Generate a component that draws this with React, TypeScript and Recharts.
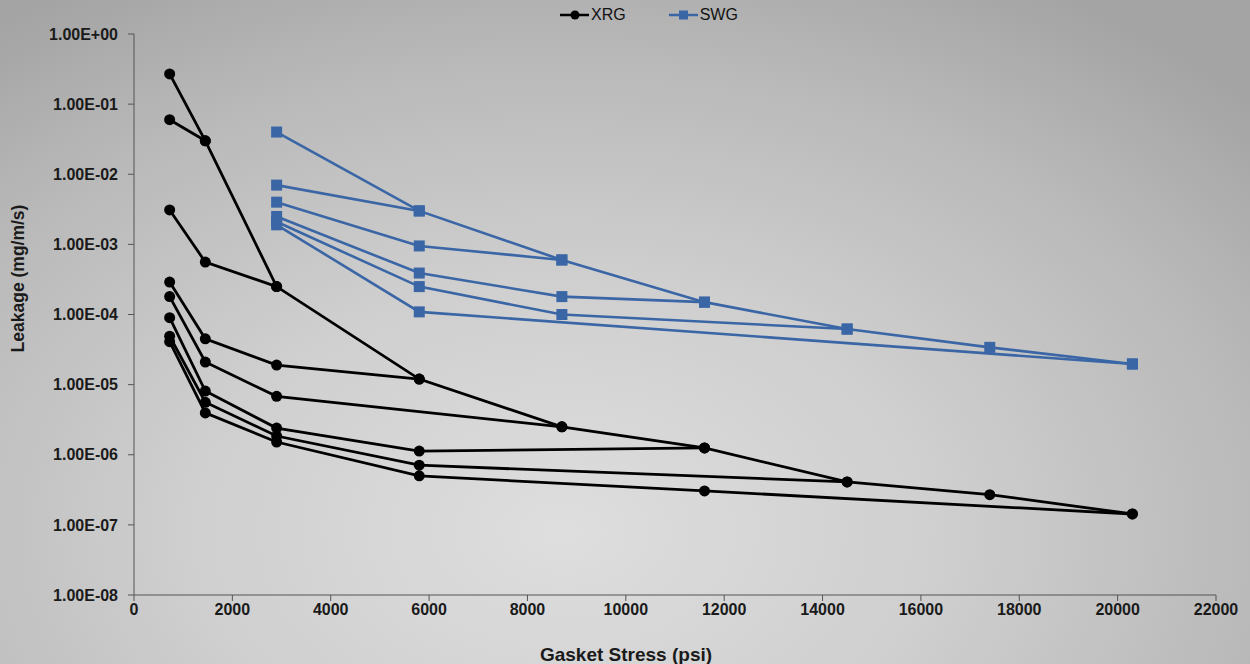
import React from "react";
import { LineChart, Line, XAxis, YAxis } from "recharts";

// gasket stress levels (psi)
const xrgLoadStress = [725, 1450, 2900, 5800, 8700, 11600, 14500, 17400, 20300];
const xrgLoadLeak = [0.27, 0.03, 2.5e-4, 1.2e-5, 2.5e-6, 1.25e-6, 4.1e-7, 2.7e-7, 1.43e-7];

const xrgUnload1Stress = [725, 1450];
const xrgUnload1Leak = [0.06, 0.03];
const xrgUnload2Stress = [725, 1450, 2900];
const xrgUnload2Leak = [3.1e-3, 5.6e-4, 2.5e-4];
const xrgUnload3Stress = [725, 1450, 2900, 5800];
const xrgUnload3Leak = [2.9e-4, 4.5e-5, 1.9e-5, 1.2e-5];
const xrgUnload4Stress = [725, 1450, 2900, 8700];
const xrgUnload4Leak = [1.8e-4, 2.1e-5, 6.8e-6, 2.5e-6];
const xrgUnload5Stress = [725, 1450, 2900, 5800, 11600];
const xrgUnload5Leak = [9e-5, 8.1e-6, 2.4e-6, 1.13e-6, 1.25e-6];
const xrgUnload6Stress = [725, 1450, 2900, 5800, 14500];
const xrgUnload6Leak = [4.9e-5, 5.6e-6, 1.85e-6, 7.1e-7, 4.1e-7];
const xrgUnload7Stress = [725, 1450, 2900, 5800, 11600, 20300];
const xrgUnload7Leak = [4.1e-5, 3.95e-6, 1.52e-6, 5e-7, 3.05e-7, 1.43e-7];

const swgLoadStress = [2900, 5800, 8700, 11600, 14500, 17400, 20300];
const swgLoadLeak = [0.04, 3e-3, 6e-4, 1.5e-4, 6.2e-5, 3.4e-5, 1.97e-5];
const swgUnload1Stress = [2900, 5800];
const swgUnload1Leak = [7e-3, 3e-3];
const swgUnload2Stress = [2900, 5800, 8700];
const swgUnload2Leak = [4e-3, 9.5e-4, 6e-4];
const swgUnload3Stress = [2900, 5800, 8700, 11600];
const swgUnload3Leak = [2.5e-3, 3.9e-4, 1.8e-4, 1.5e-4];
const swgUnload4Stress = [2900, 5800, 8700, 14500];
const swgUnload4Leak = [2.1e-3, 2.5e-4, 1e-4, 6.2e-5];
const swgUnload5Stress = [2900, 5800, 20300];
const swgUnload5Leak = [1.9e-3, 1.09e-4, 1.97e-5];

const xTicks = [0, 2000, 4000, 6000, 8000, 10000, 12000, 14000, 16000, 18000, 20000, 22000];
const yTicks = [1e-8, 1e-7, 1e-6, 1e-5, 1e-4, 1e-3, 1e-2, 1e-1, 1];

const toPoints = (xs: number[], ys: number[]) => xs.map((x, i) => ({ x, y: ys[i] }));

const xrgSeries = [
  toPoints(xrgLoadStress, xrgLoadLeak),
  toPoints(xrgUnload1Stress, xrgUnload1Leak),
  toPoints(xrgUnload2Stress, xrgUnload2Leak),
  toPoints(xrgUnload3Stress, xrgUnload3Leak),
  toPoints(xrgUnload4Stress, xrgUnload4Leak),
  toPoints(xrgUnload5Stress, xrgUnload5Leak),
  toPoints(xrgUnload6Stress, xrgUnload6Leak),
  toPoints(xrgUnload7Stress, xrgUnload7Leak),
];

const swgSeries = [
  toPoints(swgLoadStress, swgLoadLeak),
  toPoints(swgUnload1Stress, swgUnload1Leak),
  toPoints(swgUnload2Stress, swgUnload2Leak),
  toPoints(swgUnload3Stress, swgUnload3Leak),
  toPoints(swgUnload4Stress, swgUnload4Leak),
  toPoints(swgUnload5Stress, swgUnload5Leak),
];

const BLUE = "#3A66A6";
const FONT = "'Liberation Sans', Arial, sans-serif";

// Excel-like "1.00E-03"
const sciLabel = (v: number) => {
  const e = Math.round(Math.log10(v));
  return `1.00E${e < 0 ? "-" : "+"}${String(Math.abs(e)).padStart(2, "0")}`;
};

const tickStyle = { fill: "#1a1a1a", fontSize: 16, fontWeight: 700, fontFamily: FONT };

export default function App() {
  return (
    <div
      style={{
        position: "absolute",
        left: 0,
        top: 0,
        width: 1250,
        height: 664,
        background:
          "radial-gradient(ellipse 75% 95% at 45% 80%, #dedede 0%, #cfcfcf 40%, #b9b9b9 75%, #a4a4a4 100%)",
        fontFamily: FONT,
      }}
    >
      {/* legend */}
      <div
        style={{
          position: "absolute",
          top: 5,
          left: 560,
          display: "flex",
          alignItems: "center",
          fontSize: 16,
          color: "#111",
        }}
      >
        <svg width={30} height={20}>
          <line x1={0} y1={10} x2={29} y2={10} stroke="#000" strokeWidth={2.5} />
          <circle cx={15} cy={10} r={4.5} fill="#000" />
        </svg>
        <span style={{ marginLeft: 1 }}>XRG</span>
        <svg width={30} height={20} style={{ marginLeft: 43 }}>
          <line x1={0} y1={10} x2={29} y2={10} stroke={BLUE} strokeWidth={2.5} />
          <rect x={10} y={5.5} width={9} height={9} fill={BLUE} />
        </svg>
        <span style={{ marginLeft: 1 }}>SWG</span>
      </div>

      <LineChart width={1250} height={664} margin={{ top: 34, right: 34, left: 0, bottom: 0 }}>
        <XAxis
          type="number"
          dataKey="x"
          domain={[0, 22000]}
          ticks={xTicks}
          allowDuplicatedCategory={false}
          height={69}
          stroke="#555"
          tickSize={6}
          tickMargin={3}
          tick={tickStyle}
          label={{
            value: "Gasket Stress (psi)",
            position: "insideBottom",
            offset: 3,
            dx: -49,
            style: { fill: "#1a1a1a", fontSize: 19, fontWeight: 700, fontFamily: FONT },
          }}
        />
        <YAxis
          type="number"
          dataKey="y"
          scale="log"
          domain={[1e-8, 1]}
          ticks={yTicks}
          allowDataOverflow
          width={134}
          stroke="#555"
          tickSize={6}
          tickMargin={10}
          tick={tickStyle}
          tickFormatter={sciLabel}
          label={{
            value: "Leakage (mg/m/s)",
            angle: -90,
            position: "insideLeft",
            offset: 18,
            dy: -36,
            style: {
              fill: "#1a1a1a",
              fontSize: 17.5,
              fontWeight: 700,
              fontFamily: FONT,
              textAnchor: "middle",
            },
          }}
        />

        {xrgSeries.map((pts, i) => (
          <Line
            key={`xrg-${i}`}
            data={pts}
            dataKey="y"
            type="linear"
            stroke="#000"
            strokeWidth={2.8}
            dot={{ r: 5.5, fill: "#000", stroke: "#000", strokeWidth: 0 }}
            isAnimationActive={false}
          />
        ))}

        {swgSeries.map((pts, i) => (
          <Line
            key={`swg-${i}`}
            data={pts}
            dataKey="y"
            type="linear"
            stroke={BLUE}
            strokeWidth={2.6}
            dot={(p: any) => (
              <rect
                key={`swg-${i}-${p.index}`}
                x={p.cx - 5.5}
                y={p.cy - 5.5}
                width={11}
                height={11}
                fill={BLUE}
              />
            )}
            isAnimationActive={false}
          />
        ))}
      </LineChart>
    </div>
  );
}
